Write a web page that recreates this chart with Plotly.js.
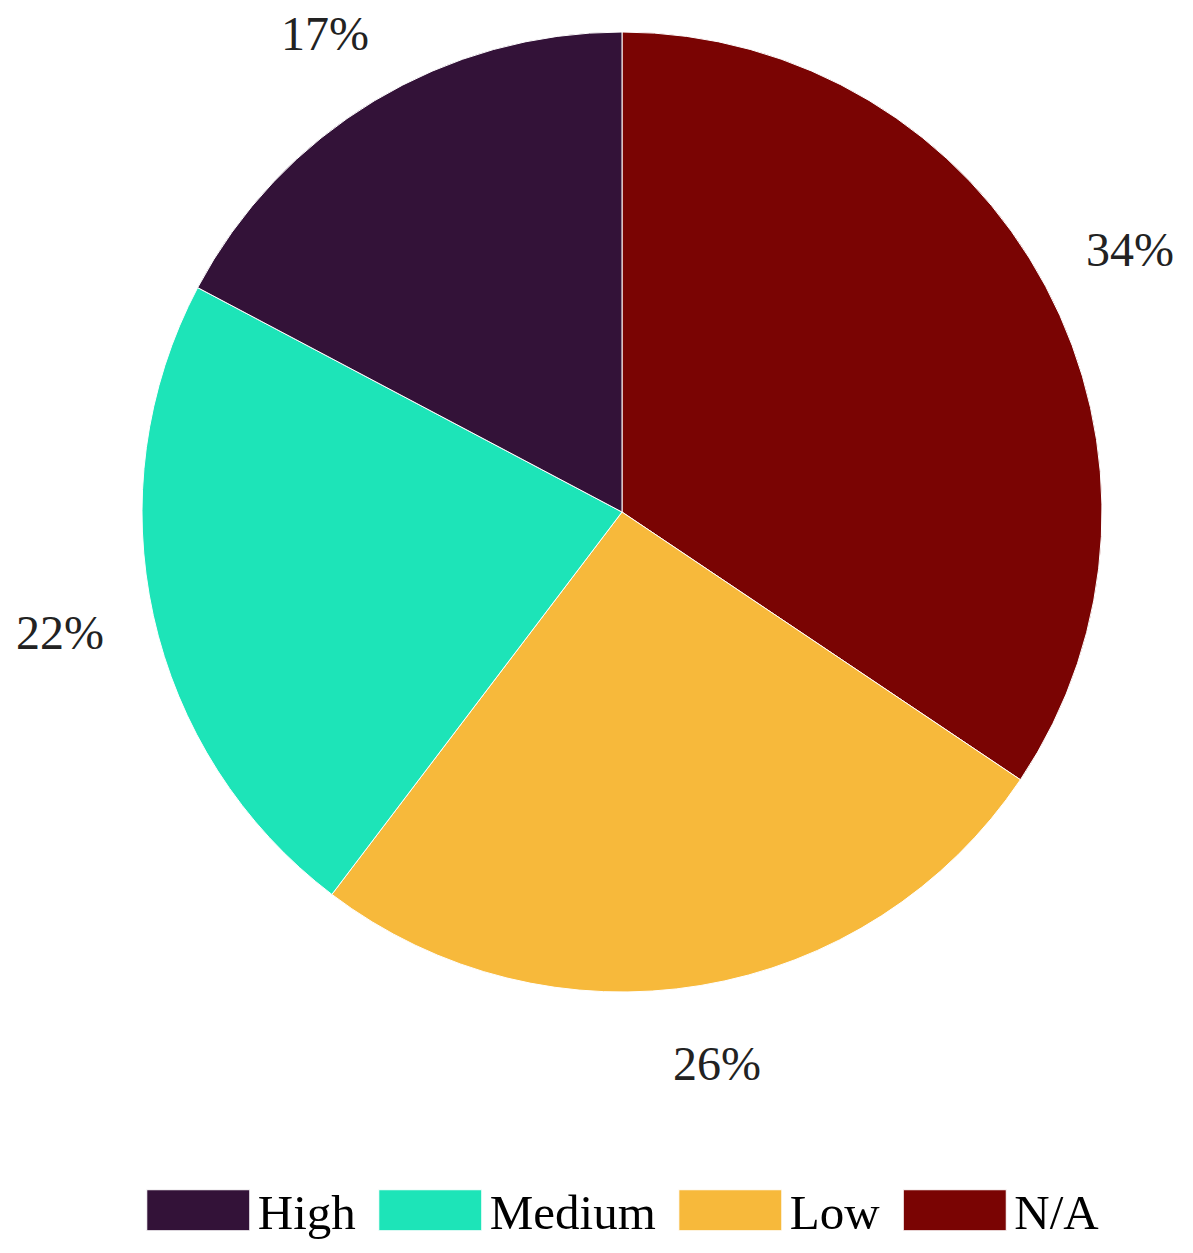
<!DOCTYPE html>
<html>
<head>
<meta charset="utf-8">
<script src="https://cdn.plot.ly/plotly-3.0.1.min.js"></script>
<style>
  body { margin: 0; background: #fff; }
  #chart { width: 1193px; height: 1253px; }
</style>
</head>
<body>
<div id="chart"></div>
<script>
// share of items per priority level (legend order)
var levels = ["High", "Medium", "Low", "N/A"];
var shares = [17.25, 22.4, 25.9, 34.4];
var levelColors = ["#331238", "#1de4b8", "#f7b93b", "#7a0403"];

var serif = "Liberation Serif";
var swatchW = 103, swatchH = 41, itemW = 119;
var pieDomX = [142 / 1193, 1102 / 1193];
// percent labels sit just outside the rim (a bit closer vertically)
var labelDistX = 1.2, labelDistY = 1.165;

// slices run clockwise from 12 o'clock starting with N/A
var pieLabels = levels.slice().reverse();
var pieValues = shares.slice().reverse();

var trace = {
    type: "pie",
    labels: pieLabels,
    values: pieValues,
    sort: false,
    direction: "clockwise",
    rotation: 0,
    marker: {colors: levelColors.slice().reverse(), line: {color: "#ffffff", width: 1}},
    textinfo: "none",
    hoverinfo: "none",
    domain: {x: pieDomX, y: [0, 1]}
};

// percent labels at the middle angle of each slice
var cx = (pieDomX[0] + pieDomX[1]) / 2, rx = (pieDomX[1] - pieDomX[0]) / 2;
var total = pieValues.reduce(function(a, b) { return a + b; }, 0);
var cum = 0;
var pctNotes = pieValues.map(function(v) {
    var mid = (cum + v / 2) / total * 2 * Math.PI;
    cum += v;
    return {
        xref: "paper", yref: "paper",
        x: cx + rx * labelDistX * Math.sin(mid),
        y: 0.5 + 0.5 * labelDistY * Math.cos(mid),
        xanchor: "center", yanchor: "middle",
        text: Math.round(v / total * 100) + "%",
        showarrow: false,
        font: {family: serif, size: 48, color: "#222222"}
    };
});

var layout = {
    width: 1193,
    height: 1253,
    margin: {l: 0, r: 0, t: 32, b: 261},
    paper_bgcolor: "#ffffff",
    font: {family: serif, color: "#222222"},
    annotations: pctNotes,
    showlegend: true,
    legend: {
        orientation: "h",
        xref: "container", yref: "container",
        x: 0.517, xanchor: "center",
        y: 0.034, yanchor: "middle",
        itemwidth: itemW,
        font: {family: serif, size: 49, color: "#000000"},
        traceorder: "reversed"
    }
};

Plotly.newPlot("chart", [trace], layout, {displayModeBar: false, staticPlot: true}).then(function(gd) {
    // widen the legend swatches to long boxes, sitting just before the text
    gd.querySelectorAll(".legendpie").forEach(function(p) {
        var hw = swatchW / 2, hh = swatchH / 2;
        p.setAttribute("d", "M" + (-hw) + "," + hh + "H" + hw + "V" + (-hh) + "H" + (-hw) + "Z");
        p.setAttribute("transform", "translate(" + (itemW + 2 - hw) + ",0)");
    });
});
</script>
</body>
</html>
